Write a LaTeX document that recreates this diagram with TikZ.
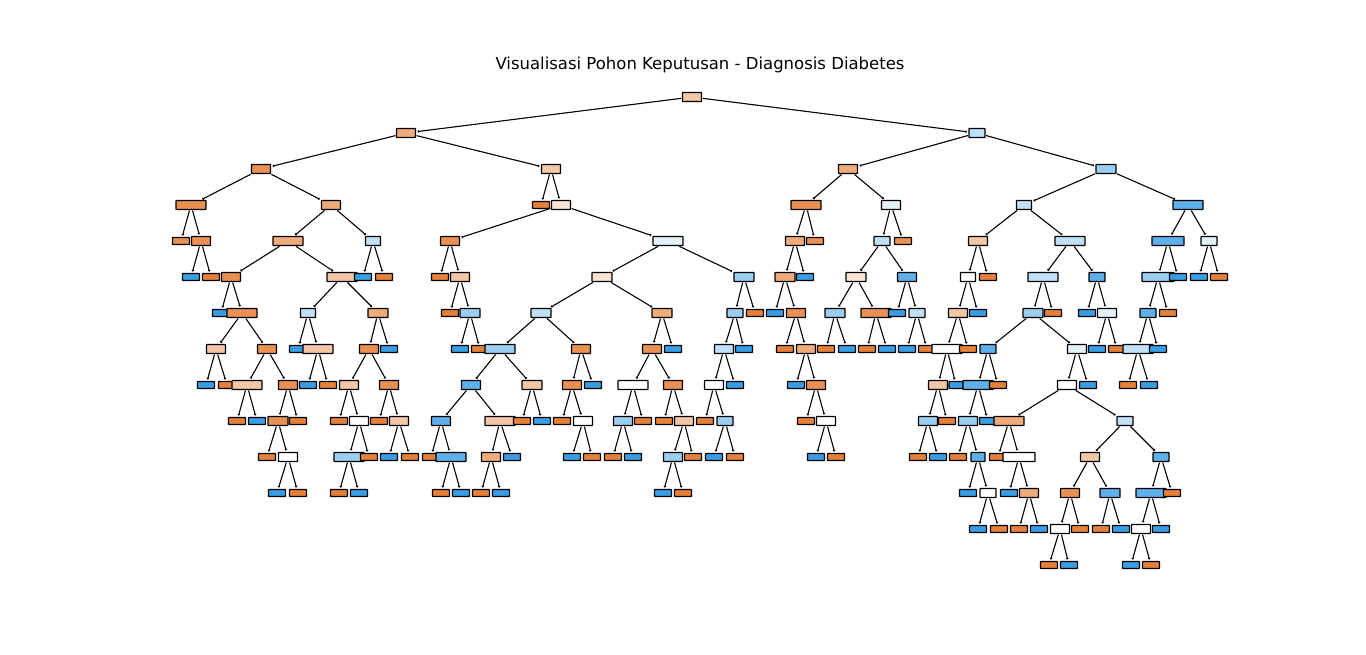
\documentclass[tikz,border=0pt]{standalone}
\usepackage{fontspec}
\setmainfont{DejaVu Sans}
\usetikzlibrary{arrows.meta}
\definecolor{O1}{HTML}{E58139}
\definecolor{O2}{HTML}{E89152}
\definecolor{O3}{HTML}{EEAB7B}
\definecolor{O4}{HTML}{F3C6A5}
\definecolor{O5}{HTML}{F9E3D3}
\definecolor{W}{HTML}{FFFFFF}
\definecolor{B5}{HTML}{E3F1FB}
\definecolor{B4}{HTML}{C0E0F7}
\definecolor{B3}{HTML}{9CCEF2}
\definecolor{B2}{HTML}{5EAFEA}
\definecolor{B1}{HTML}{399DE5}
\tikzset{
  nd/.style={draw=black,line width=1.2pt,rounded corners=0.5pt,inner sep=0pt,minimum width=19pt,minimum height=9pt},
  lf/.style={nd,minimum width=17pt,minimum height=7pt},
  wd/.style={nd,minimum width=30pt},
  edge/.style={line width=1.1pt,-{To[length=1.6pt,width=2.6pt]},shorten >=1.5pt,shorten <=0.5pt}
}
\begin{document}
\begin{tikzpicture}[x=1pt,y=-1pt]
\useasboundingbox[fill=white] (0,0) rectangle (1366,655);
\node[anchor=base,font=\fontsize{16.5}{19}\selectfont] (title) at (700,70) {Visualisasi Pohon Keputusan - Diagnosis Diabetes};
% L0-L2
\node[nd,fill=O4] (R) at (692,97) {};
\node[nd,fill=O3] (A) at (406,133) {};
\node[nd,fill=B4,minimum width=16pt] (B) at (977,133) {};
\node[nd,fill=O2] (AL) at (261,169) {};
\node[nd,fill=O4] (AR) at (551,169) {};
\node[nd,fill=O3] (BL) at (848,169) {};
\node[nd,fill=B3,minimum width=20pt] (BR) at (1106,169) {};
% L3
\node[wd,fill=O2] (a1) at (191,205) {};
\node[nd,fill=O3] (a2) at (331,205) {};
\node[lf,fill=O1] (a3) at (541,205) {};
\node[nd,fill=O5] (a4) at (561,205) {};
\node[wd,fill=O2] (b1) at (806,205) {};
\node[nd,fill=B5] (b2) at (891,205) {};
\node[nd,fill=B4,minimum width=15pt] (b3) at (1024,205) {};
\node[wd,fill=B2] (b4) at (1188,205) {};
% L4
\node[lf,fill=O2] (c1) at (181,241) {};
\node[nd,fill=O2] (c2) at (201,241) {};
\node[wd,fill=O3] (c3) at (288,241) {};
\node[nd,fill=B4,minimum width=15pt] (c4) at (373,241) {};
\node[nd,fill=O2] (c5) at (450,241) {};
\node[wd,fill=B5] (c6) at (668,241) {};
\node[nd,fill=O3] (c7) at (795,241) {};
\node[lf,fill=O2] (c8) at (815,241) {};
\node[nd,fill=B4,minimum width=16pt] (c9) at (882,241) {};
\node[lf,fill=O2] (c10) at (903,241) {};
\node[nd,fill=O4] (c11) at (978,241) {};
\node[wd,fill=B4] (c12) at (1070,241) {};
\node[wd,fill=B2,minimum width=32pt] (c13) at (1168,241) {};
\node[nd,fill=B5,minimum width=16pt] (c14) at (1209,241) {};
% L5
\node[lf,fill=B1] (d1) at (191,277) {};
\node[lf,fill=O1] (d2) at (211,277) {};
\node[nd,fill=O2] (d3) at (231,277) {};
\node[wd,fill=O4] (d4) at (342,277) {};
\node[lf,fill=B1] (d5) at (363,277) {};
\node[lf,fill=O1] (d6) at (384,277) {};
\node[lf,fill=O1] (d7) at (440,277) {};
\node[nd,fill=O4] (d8) at (460,277) {};
\node[nd,fill=O5,minimum width=20pt] (d9) at (602,277) {};
\node[nd,fill=B3,minimum width=20pt] (d10) at (744,277) {};
\node[nd,fill=O3,minimum width=20pt] (d11) at (785,277) {};
\node[lf,fill=B1] (d12) at (805,277) {};
\node[nd,fill=O5,minimum width=20pt] (d13) at (856,277) {};
\node[nd,fill=B2] (d14) at (907,277) {};
\node[nd,fill=W,minimum width=15pt] (d15) at (968,277) {};
\node[lf,fill=O1] (d16) at (988,277) {};
\node[wd,fill=B4] (d17) at (1043,277) {};
\node[nd,fill=B2,minimum width=16pt] (d18) at (1097,277) {};
\node[wd,fill=B3,minimum width=32pt] (d19) at (1158,277) {};
\node[lf,fill=B1] (d20) at (1178,277) {};
\node[lf,fill=B1] (d21) at (1199,277) {};
\node[lf,fill=O1] (d22) at (1219,277) {};
% L6
\node[lf,fill=B1] (e1) at (221,313) {};
\node[wd,fill=O2] (e2) at (242,313) {};
\node[nd,fill=B4,minimum width=15pt] (e3) at (308,313) {};
\node[nd,fill=O3,minimum width=20pt] (e4) at (378,313) {};
\node[lf,fill=O1] (e5) at (450,313) {};
\node[nd,fill=B3,minimum width=20pt] (e6) at (470,313) {};
\node[nd,fill=B4,minimum width=20pt] (e7) at (541,313) {};
\node[nd,fill=O3,minimum width=20pt] (e8) at (662,313) {};
\node[nd,fill=B3,minimum width=16pt] (e9) at (735,313) {};
\node[lf,fill=O1] (e10) at (755,313) {};
\node[lf,fill=B1] (e11) at (775,313) {};
\node[nd,fill=O2] (e12) at (796,313) {};
\node[nd,fill=B3,minimum width=20pt] (e13) at (835,313) {};
\node[wd,fill=O2] (e14) at (876,313) {};
\node[lf,fill=B1] (e15) at (897,313) {};
\node[nd,fill=B4,minimum width=16pt] (e16) at (917,313) {};
\node[nd,fill=O4] (e17) at (958,313) {};
\node[lf,fill=B1] (e18) at (978,313) {};
\node[nd,fill=B3,minimum width=20pt] (e19) at (1033,313) {};
\node[lf,fill=O1] (e20) at (1053,313) {};
\node[lf,fill=B1] (e21) at (1087,313) {};
\node[nd,fill=B5] (e22) at (1107,313) {};
\node[nd,fill=B2,minimum width=16pt] (e23) at (1148,313) {};
\node[lf,fill=O1] (e24) at (1168,313) {};
% L7
\node[nd,fill=O4] (f1) at (216,349) {};
\node[nd,fill=O2] (f2) at (267,349) {};
\node[lf,fill=B1] (f3) at (298,349) {};
\node[wd,fill=O4] (f4) at (318,349) {};
\node[nd,fill=O2] (f5) at (369,349) {};
\node[lf,fill=B1] (f6) at (389,349) {};
\node[lf,fill=B1] (f7) at (460,349) {};
\node[lf,fill=O1] (f8) at (480,349) {};
\node[wd,fill=B3] (f9) at (500,349) {};
\node[nd,fill=O2] (f10) at (581,349) {};
\node[nd,fill=O2] (f11) at (652,349) {};
\node[lf,fill=B1] (f12) at (673,349) {};
\node[nd,fill=B4] (f13) at (724,349) {};
\node[lf,fill=B1] (f14) at (744,349) {};
\node[lf,fill=O1] (f15) at (785,349) {};
\node[nd,fill=O3] (f16) at (806,349) {};
\node[lf,fill=O1] (f17) at (826,349) {};
\node[lf,fill=B1] (f18) at (847,349) {};
\node[lf,fill=O1] (f19) at (867,349) {};
\node[lf,fill=B1] (f20) at (887,349) {};
\node[lf,fill=B1] (f21) at (907,349) {};
\node[lf,fill=O1] (f22) at (927,349) {};
\node[wd,fill=W] (f23) at (947,349) {};
\node[lf,fill=O1] (f24) at (968,349) {};
\node[nd,fill=B2,minimum width=16pt] (f25) at (988,349) {};
\node[nd,fill=B5] (f26) at (1077,349) {};
\node[lf,fill=B1] (f27) at (1097,349) {};
\node[lf,fill=O1] (f28) at (1117,349) {};
\node[wd,fill=B4] (f29) at (1138,349) {};
\node[lf,fill=B1] (f30) at (1158,349) {};
% L8
\node[lf,fill=B1] (g1) at (206,385) {};
\node[lf,fill=O1] (g2) at (227,385) {};
\node[wd,fill=O4] (g3) at (247,385) {};
\node[nd,fill=O2] (g4) at (288,385) {};
\node[lf,fill=B1] (g5) at (308,385) {};
\node[lf,fill=O1] (g6) at (328,385) {};
\node[nd,fill=O4] (g7) at (349,385) {};
\node[nd,fill=O2] (g8) at (389,385) {};
\node[nd,fill=B2] (g9) at (471,385) {};
\node[nd,fill=O4,minimum width=20pt] (g10) at (532,385) {};
\node[nd,fill=O2] (g11) at (572,385) {};
\node[lf,fill=B1] (g12) at (593,385) {};
\node[wd,fill=W] (g13) at (633,385) {};
\node[nd,fill=O2] (g14) at (673,385) {};
\node[nd,fill=W] (g15) at (714,385) {};
\node[lf,fill=B1] (g16) at (735,385) {};
\node[lf,fill=B1] (g17) at (796,385) {};
\node[nd,fill=O2] (g18) at (816,385) {};
\node[nd,fill=O4] (g19) at (938,385) {};
\node[lf,fill=B1,minimum width=14pt] (g20) at (956,385) {};
\node[wd,fill=B2] (g21) at (978,385) {};
\node[lf,fill=O1] (g22) at (998,385) {};
\node[nd,fill=W] (g23) at (1067,385) {};
\node[lf,fill=B1] (g24) at (1088,385) {};
\node[lf,fill=O1] (g25) at (1128,385) {};
\node[lf,fill=B1] (g26) at (1149,385) {};
% L9
\node[lf,fill=O1] (h1) at (237,421) {};
\node[lf,fill=B1] (h2) at (257,421) {};
\node[nd,fill=O2,minimum width=20pt] (h3) at (278,421) {};
\node[lf,fill=O1] (h4) at (298,421) {};
\node[lf,fill=O1] (h5) at (339,421) {};
\node[nd,fill=W] (h6) at (359,421) {};
\node[lf,fill=O1] (h7) at (379,421) {};
\node[nd,fill=O4] (h8) at (399,421) {};
\node[nd,fill=B2] (h9) at (441,421) {};
\node[wd,fill=O4] (h10) at (500,421) {};
\node[lf,fill=O1] (h11) at (522,421) {};
\node[lf,fill=B1] (h12) at (542,421) {};
\node[lf,fill=O1] (h13) at (562,421) {};
\node[nd,fill=W] (h14) at (583,421) {};
\node[nd,fill=B3] (h15) at (623,421) {};
\node[lf,fill=O1] (h16) at (643,421) {};
\node[lf,fill=O1] (h17) at (664,421) {};
\node[nd,fill=O4] (h18) at (684,421) {};
\node[lf,fill=O1] (h19) at (705,421) {};
\node[nd,fill=B3,minimum width=16pt] (h20) at (725,421) {};
\node[lf,fill=O1] (h21) at (806,421) {};
\node[nd,fill=W] (h22) at (826,421) {};
\node[nd,fill=B3] (h23) at (928,421) {};
\node[lf,fill=O1] (h24) at (947,421) {};
\node[nd,fill=B3] (h25) at (968,421) {};
\node[lf,fill=B1] (h26) at (988,421) {};
\node[wd,fill=O3] (h27) at (1009,421) {};
\node[nd,fill=B4,minimum width=16pt] (h28) at (1125,421) {};
% L10
\node[lf,fill=O1] (i1) at (267,457) {};
\node[nd,fill=W] (i2) at (288,457) {};
\node[wd,fill=B3] (i3) at (349,457) {};
\node[lf,fill=O1] (i4) at (369,457) {};
\node[lf,fill=B1] (i5) at (389,457) {};
\node[lf,fill=O1] (i6) at (410,457) {};
\node[lf,fill=O1] (i7) at (431,457) {};
\node[wd,fill=B2] (i8) at (451,457) {};
\node[nd,fill=O3] (i9) at (491,457) {};
\node[lf,fill=B1] (i10) at (512,457) {};
\node[lf,fill=B1] (i11) at (572,457) {};
\node[lf,fill=O1] (i12) at (592,457) {};
\node[lf,fill=O1] (i13) at (613,457) {};
\node[lf,fill=B1] (i14) at (633,457) {};
\node[nd,fill=B3] (i15) at (673,457) {};
\node[lf,fill=O1] (i16) at (693,457) {};
\node[lf,fill=B1] (i17) at (714,457) {};
\node[lf,fill=O1] (i18) at (735,457) {};
\node[lf,fill=B1] (i19) at (816,457) {};
\node[lf,fill=O1] (i20) at (836,457) {};
\node[lf,fill=O1] (i21) at (918,457) {};
\node[lf,fill=B1] (i22) at (938,457) {};
\node[lf,fill=O1] (i23) at (958,457) {};
\node[nd,fill=B2,minimum width=14pt] (i24) at (978,457) {};
\node[lf,fill=O1] (i25) at (998,457) {};
\node[wd,fill=W,minimum width=32pt] (i26) at (1019,457) {};
\node[nd,fill=O4] (i27) at (1090,457) {};
\node[nd,fill=B2,minimum width=16pt] (i28) at (1161,457) {};
% L11
\node[lf,fill=B1] (j1) at (277,493) {};
\node[lf,fill=O1] (j2) at (298,493) {};
\node[lf,fill=O1] (j3) at (339,493) {};
\node[lf,fill=B1] (j4) at (359,493) {};
\node[lf,fill=O1] (j5) at (441,493) {};
\node[lf,fill=B1] (j6) at (461,493) {};
\node[lf,fill=O1] (j7) at (481,493) {};
\node[lf,fill=B1] (j8) at (501,493) {};
\node[lf,fill=B1] (j9) at (663,493) {};
\node[lf,fill=O1] (j10) at (683,493) {};
\node[lf,fill=B1] (j11) at (968,493) {};
\node[nd,fill=W,minimum width=16pt] (j12) at (988,493) {};
\node[lf,fill=B1] (j13) at (1009,493) {};
\node[nd,fill=O3] (j14) at (1029,493) {};
\node[nd,fill=O2] (j15) at (1070,493) {};
\node[nd,fill=B2,minimum width=20pt] (j16) at (1110,493) {};
\node[wd,fill=B2] (j17) at (1151,493) {};
\node[lf,fill=O1] (j18) at (1172,493) {};
% L12
\node[lf,fill=B1] (k1) at (978,529) {};
\node[lf,fill=O1] (k2) at (999,529) {};
\node[lf,fill=O1] (k3) at (1019,529) {};
\node[lf,fill=B1] (k4) at (1039,529) {};
\node[nd,fill=W] (k5) at (1060,529) {};
\node[lf,fill=O1] (k6) at (1080,529) {};
\node[lf,fill=O1] (k7) at (1101,529) {};
\node[lf,fill=B1] (k8) at (1121,529) {};
\node[nd,fill=W] (k9) at (1141,529) {};
\node[lf,fill=B1] (k10) at (1161,529) {};
% L13
\node[lf,fill=O1] (l1) at (1049,565) {};
\node[lf,fill=B1] (l2) at (1069,565) {};
\node[lf,fill=B1] (l3) at (1131,565) {};
\node[lf,fill=O1] (l4) at (1151,565) {};
% edges
\foreach \p/\c in {R/A,R/B,A/AL,A/AR,B/BL,B/BR,
 AL/a1,AL/a2,AR/a3,AR/a4,BL/b1,BL/b2,BR/b3,BR/b4,
 a1/c1,a1/c2,a2/c3,a2/c4,a4/c5,a4/c6,b1/c7,b1/c8,b2/c9,b2/c10,b3/c11,b3/c12,b4/c13,b4/c14,
 c2/d1,c2/d2,c3/d3,c3/d4,c4/d5,c4/d6,c5/d7,c5/d8,c6/d9,c6/d10,c7/d11,c7/d12,c9/d13,c9/d14,c11/d15,c11/d16,c12/d17,c12/d18,c13/d19,c13/d20,c14/d21,c14/d22,
 d3/e1,d3/e2,d4/e3,d4/e4,d8/e5,d8/e6,d9/e7,d9/e8,d10/e9,d10/e10,d11/e11,d11/e12,d13/e13,d13/e14,d14/e15,d14/e16,d15/e17,d15/e18,d17/e19,d17/e20,d18/e21,d18/e22,d19/e23,d19/e24,
 e2/f1,e2/f2,e3/f3,e3/f4,e4/f5,e4/f6,e6/f7,e6/f8,e7/f9,e7/f10,e8/f11,e8/f12,e9/f13,e9/f14,e12/f15,e12/f16,e13/f17,e13/f18,e14/f19,e14/f20,e16/f21,e16/f22,e17/f23,e17/f24,e19/f25,e19/f26,e22/f27,e22/f28,e23/f29,e23/f30,
 f1/g1,f1/g2,f2/g3,f2/g4,f4/g5,f4/g6,f5/g7,f5/g8,f9/g9,f9/g10,f10/g11,f10/g12,f11/g13,f11/g14,f13/g15,f13/g16,f16/g17,f16/g18,f23/g19,f23/g20,f25/g21,f25/g22,f26/g23,f26/g24,f29/g25,f29/g26,
 g3/h1,g3/h2,g4/h3,g4/h4,g7/h5,g7/h6,g8/h7,g8/h8,g9/h9,g9/h10,g10/h11,g10/h12,g11/h13,g11/h14,g13/h15,g13/h16,g14/h17,g14/h18,g15/h19,g15/h20,g18/h21,g18/h22,g19/h23,g19/h24,g21/h25,g21/h26,g23/h27,g23/h28,
 h3/i1,h3/i2,h6/i3,h6/i4,h8/i5,h8/i6,h9/i7,h9/i8,h10/i9,h10/i10,h14/i11,h14/i12,h15/i13,h15/i14,h18/i15,h18/i16,h20/i17,h20/i18,h22/i19,h22/i20,h23/i21,h23/i22,h25/i23,h25/i24,h27/i25,h27/i26,h28/i27,h28/i28,
 i2/j1,i2/j2,i3/j3,i3/j4,i8/j5,i8/j6,i9/j7,i9/j8,i15/j9,i15/j10,i24/j11,i24/j12,i26/j13,i26/j14,i27/j15,i27/j16,i28/j17,i28/j18,
 j12/k1,j12/k2,j14/k3,j14/k4,j15/k5,j15/k6,j16/k7,j16/k8,j17/k9,j17/k10,
 k5/l1,k5/l2,k9/l3,k9/l4}
 \draw[edge] (\p) -- (\c);
\end{tikzpicture}
\end{document}
